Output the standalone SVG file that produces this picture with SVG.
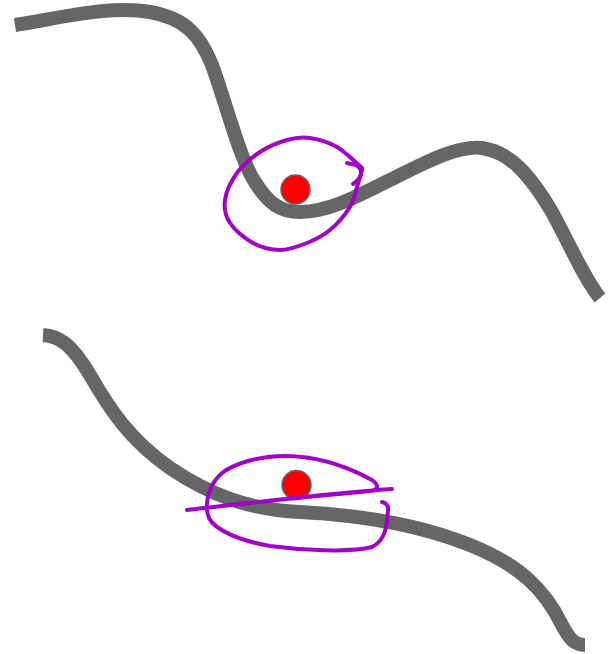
<svg xmlns="http://www.w3.org/2000/svg" width="612" height="654" viewBox="0 0 612 654">
<style>
.curve{fill:none;stroke:#666666;stroke-width:14;stroke-linecap:butt;stroke-linejoin:round}
.dot{fill:#ff0000;stroke:#666666;stroke-width:1.5}
.ink{fill:none;stroke:#a000c8;stroke-width:4;stroke-linecap:round;stroke-linejoin:round}
</style>
<rect width="612" height="654" fill="#ffffff"/>
<g id="top">
<path class="curve" d="M15,25 C60,18 110,5 150,12 C185,18 200,35 212,65 C225,100 240,160 255,182 C268,203 280,212 300,212 C330,212 360,195 400,175 C430,160 460,145 482,148 C510,152 530,175 552,212 C570,245 585,280 600,298"/>
<circle class="dot" cx="295.5" cy="189.5" r="14.5"/>
<path class="ink" d="M362,168 C357.8,164.5 345.7,152 337,147 C328.3,142 318.3,139.2 310,138 C301.7,136.8 295.3,137.7 287,140 C278.7,142.3 268.3,146.5 260,152 C251.7,157.5 242.8,165 237,173 C231.2,181 226.2,191.7 225,200 C223.8,208.3 225.3,215.8 230,223 C234.7,230.2 244.7,238.5 253,243 C261.3,247.5 271,250 280,250 C289,250 298.7,246.3 307,243 C315.3,239.7 322.8,236 330,230 C337.2,224 345.5,214.2 350,207 C354.5,199.8 355,193.2 357,187 C359,180.8 361.2,172.8 362,170"/>
<path class="ink" d="M347,163 L356,165 Q362,168 361,175 Q359,180 353,184"/>
</g>
<g id="bottom">
<path class="curve" d="M43,335 C60,336 72,345 90,375 C110,410 130,440 170,468 C210,495 250,510 300,512 C360,515 420,525 470,545 C520,565 545,590 562,625 C570,640 575,645 585,645"/>
<circle class="dot" cx="296.5" cy="485" r="14.5"/>
<path class="ink" d="M382,502 Q389,504 388,510 C387,525 386,540 372,547 C350,553 300,550 270,546 C240,541 215,530 209,518 C204,505 208,485 222,473 C235,463 260,456 285,456 C320,456 350,468 372,480 C380,486 378,490 370,491 C330,495 250,502 187,510 C250,503 330,493 392,489"/>
</g>
</svg>
